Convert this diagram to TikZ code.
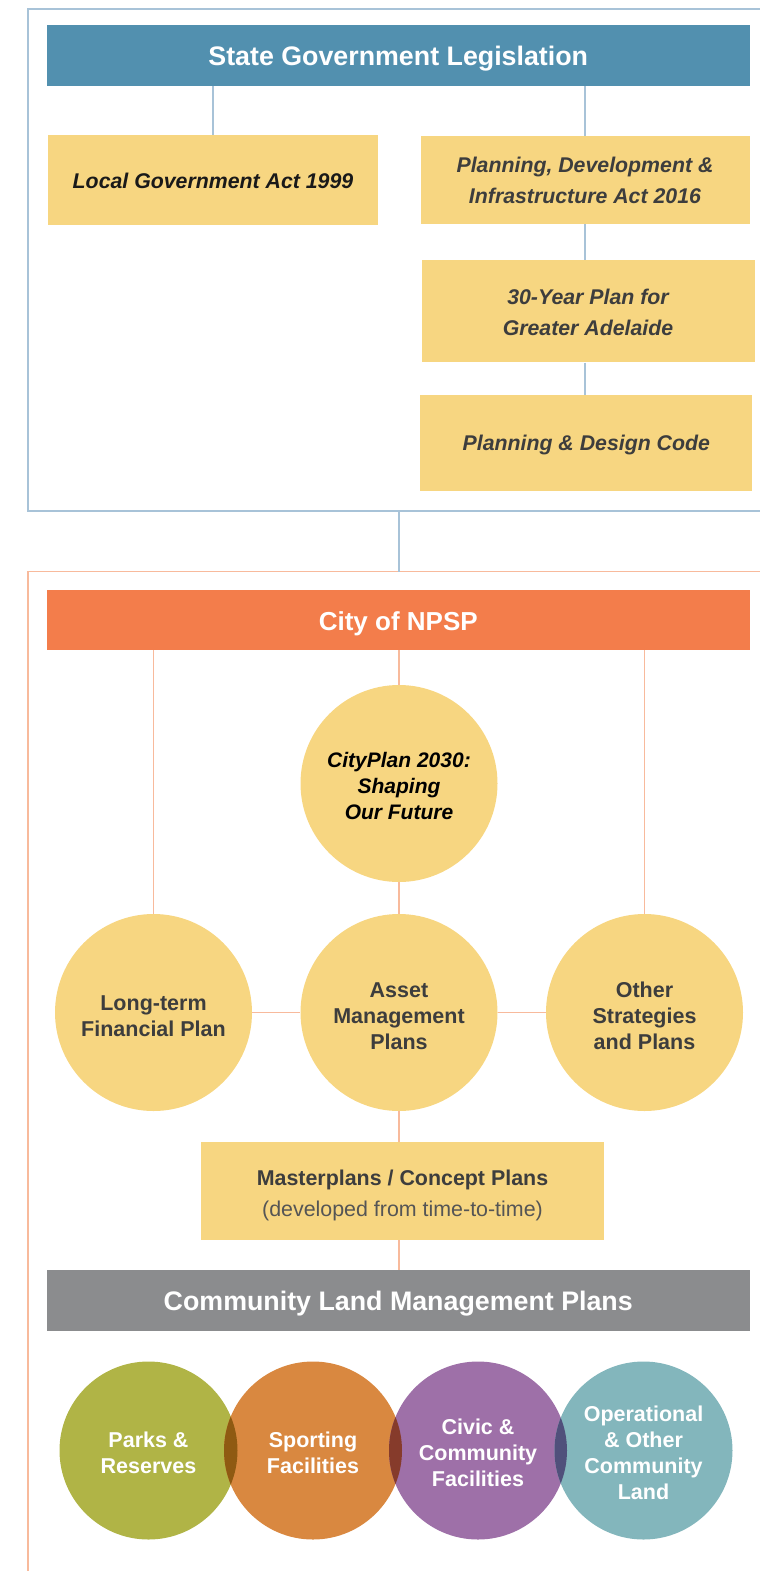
\documentclass[tikz,border=0pt]{standalone}
\usepackage{fontspec}
\setmainfont{Liberation Sans}
\definecolor{hblue}{HTML}{5290AF}
\definecolor{horange}{HTML}{F37D4B}
\definecolor{hgrey}{HTML}{8B8C8E}
\definecolor{ylw}{HTML}{F7D681}
\definecolor{txtd}{HTML}{3D3D3D}
\definecolor{txtl}{HTML}{555555}
\definecolor{bln}{HTML}{A8C3D8}
\definecolor{oln}{HTML}{F8BA9C}
\definecolor{cparks}{HTML}{B0B446}
\definecolor{csport}{HTML}{D98840}
\definecolor{ccivic}{HTML}{9E70A8}
\definecolor{coper}{HTML}{83B6BC}
\definecolor{ovA}{HTML}{8F5A12}
\definecolor{ovB}{HTML}{863B2B}
\definecolor{ovC}{HTML}{50507B}
\newcommand\myvs[1]{\rule{0pt}{#1}}
\begin{document}
\begin{tikzpicture}[x=1pt,y=-1pt,
  vstrut/.style={execute at begin node={\rule{0pt}{#1}}},
  hdr/.style={rectangle, minimum width=703pt, minimum height=60.5pt, inner sep=0pt, text=white, font=\fontsize{26.8}{30}\selectfont\bfseries, vstrut=25.5pt},
  ybox/.style={rectangle, fill=ylw, inner sep=0pt, align=center, text=txtd, font=\fontsize{21.3}{31}\selectfont\bfseries\itshape},
  ycirc/.style={circle, fill=ylw, minimum size=197pt, inner sep=0pt, align=center, text=txtd, font=\fontsize{21.5}{26}\selectfont\bfseries},
  ccirc/.style={circle, minimum size=178pt, inner sep=0pt, align=center, text=white, font=\fontsize{21.5}{26}\selectfont\bfseries},
  bline/.style={draw=bln, line width=1.4pt},
  oline/.style={draw=oln, line width=1.5pt},
  bframe/.style={draw=bln, line width=1.6pt},
  oframe/.style={draw=oln, line width=1.6pt}]
\useasboundingbox (0,0) rectangle (760,1571);

% frames
\draw[bframe] (760,9) -- (28,9) -- (28,511) -- (760,511);
\draw[oframe] (760,571.5) -- (28,571.5) -- (28,1571);
\coordinate (tf) at (399,511);
\coordinate (lf) at (399,571.5);
\draw[bline] (tf) -- (lf);

% state level
\node[hdr, fill=hblue] (sgl) at (398.25,55.3) {State Government Legislation};
\node[ybox, minimum width=330pt, minimum height=90pt, text=black!90, vstrut=17.5pt] (lga) at (213,180) {Local Government Act 1999};
\node[ybox, minimum width=329pt, minimum height=88pt] (pdi) at (585,180) {Planning, Development \&\\Infrastructure Act 2016};
\node[ybox, minimum width=333pt, minimum height=102pt] (yr) at (588,311.3) {\myvs{17.2pt}30-Year Plan for\\Greater Adelaide};
\node[ybox, minimum width=332pt, minimum height=95.5pt, vstrut=19.5pt] (pdc) at (586.3,442.8) {Planning \& Design Code};

\draw[bline] (sgl.south -| lga.north) -- (lga.north);
\draw[bline] (sgl.south -| pdi.north) -- (pdi.north);
\draw[bline] (pdi.south) -- (pdi.south |- yr.north);
\draw[bline] (yr.south -| pdi.south) -- (pdi.south |- pdc.north);

% city level
\node[hdr, fill=horange, font=\fontsize{26}{30}\selectfont\bfseries] (npsp) at (398.25,620) {City of NPSP};
\node[ycirc, text=black, font=\fontsize{21}{26}\selectfont\bfseries\itshape] (cp) at (399,783.5) {\myvs{19.3pt}CityPlan 2030:\\Shaping\\Our Future};
\node[ycirc] (lt) at (153.5,1012.5) {\myvs{21.7pt}Long-term\\Financial Plan};
\node[ycirc] (am) at (399,1012.5) {\myvs{21.4pt}Asset\\Management\\Plans};
\node[ycirc] (os) at (644.5,1012.5) {\myvs{21.7pt}Other\\Strategies\\and Plans};
\node[ybox, minimum width=403pt, minimum height=98pt, font=\fontsize{21.4}{31}\selectfont] (mp) at (402.5,1191)
  {\myvs{24.3pt}\bfseries Masterplans / Concept Plans\\{\color{txtl}(developed from time-to-time)}};
\node[hdr, fill=hgrey] (clmp) at (398.25,1300.3) {Community Land Management Plans};

\draw[oline] (npsp.south -| lt.north) -- (lt.north);
\draw[oline] (npsp.south -| cp.north) -- (cp.north);
\draw[oline] (npsp.south -| os.north) -- (os.north);
\draw[oline] (cp.south) -- (am.north);
\draw[oline] (lt.east) -- (am.west);
\draw[oline] (am.east) -- (os.west);
\draw[oline] (am.south) -- (am.south |- mp.north);
\draw[oline] (mp.south -| am.south) -- (am.south |- clmp.north);

% community land categories
\node[ccirc, fill=cparks] (pr) at (148.5,1450.5) {\myvs{19.7pt}Parks \&\\Reserves};
\node[ccirc, fill=csport] (sf) at (313,1450.5) {\myvs{19.7pt}Sporting\\Facilities};
\node[ccirc, fill=ccivic] (cc) at (478,1450.5) {\myvs{19.7pt}Civic \&\\Community\\Facilities};
\node[ccirc, fill=coper] (oc) at (643.5,1450.5) {\myvs{19.7pt}Operational\\\& Other\\Community\\Land};
\begin{scope}
  \clip (pr.center) circle[radius=89pt];
  \fill[ovA] (sf.center) circle[radius=89pt];
\end{scope}
\begin{scope}
  \clip (sf.center) circle[radius=89pt];
  \fill[ovB] (cc.center) circle[radius=89pt];
\end{scope}
\begin{scope}
  \clip (cc.center) circle[radius=89pt];
  \fill[ovC] (oc.center) circle[radius=89pt];
\end{scope}
\end{tikzpicture}
\end{document}
